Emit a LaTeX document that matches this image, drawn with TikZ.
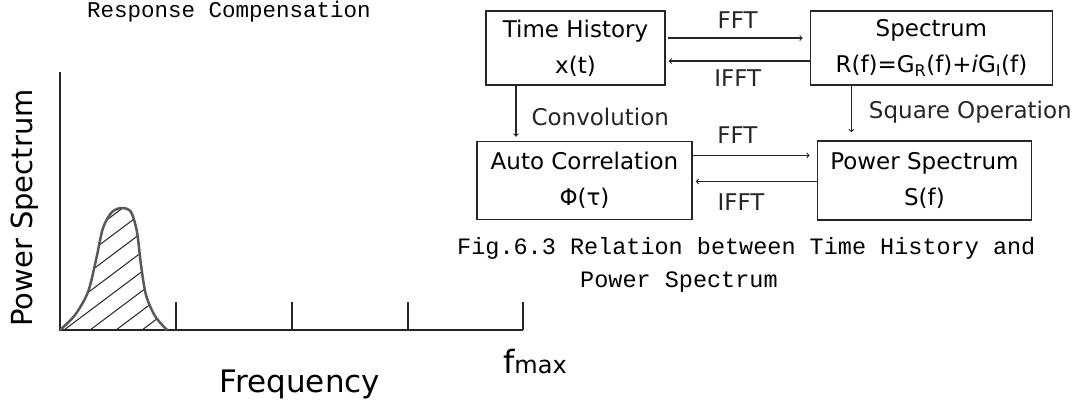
\documentclass[tikz,border=0pt]{standalone}
\usepackage{fontspec}
\usetikzlibrary{arrows, positioning}
\newfontfamily\plotfont{DejaVu Sans}
\newfontfamily\capfont{Liberation Mono}
\newcommand{\labelfont}{\plotfont\fontsize{23}{36}\selectfont}
\newcommand{\capsize}{\capfont\fontsize{23.5}{33}\selectfont}

\begin{document}
\begin{tikzpicture}[x=1pt, y=-1pt,
    box/.style={rectangle, draw=black!85, line width=1.4pt, inner sep=0pt,
                align=center, font=\labelfont},
    arrow/.style={->, >=to, line width=1.1pt, black!85},
    lbl/.style={font=\labelfont, inner sep=0pt}]
    \useasboundingbox (0,0) rectangle (1075,400);

    % spectrum sketch on the left
    \draw[line width=1.6pt, black!85] (60,72) -- (60,330) -- (523,330);
    \foreach \t in {176,292,408,523}
        \draw[line width=1.6pt, black!85] (\t,330) -- (\t,302);
    \begin{scope}
        \clip plot[smooth] coordinates {(60,330) (75,315) (88,292) (96,260) (103,228)
            (112,212) (122,208) (131,212) (137,232) (141,265) (146,295) (155,316) (167,330)};
        \foreach \h in {-66,-40,...,166}
            \draw[line width=1pt, black!85] (\h,330) -- ++(200,-150);
    \end{scope}
    \draw[line width=2.5pt, black!65] plot[smooth] coordinates {(60,330) (75,315) (88,292)
        (96,260) (103,228) (112,212) (122,208) (131,212) (137,232) (141,265) (146,295)
        (155,316) (167,330)};

    \node[font=\plotfont\fontsize{29}{34}\selectfont, rotate=90] (ylab) at (25,208) {Power Spectrum};
    \node[font=\plotfont\fontsize{31}{34}\selectfont, anchor=base, inner sep=0pt] (xlab) at (300,392) {Frequency};
    \node[anchor=base west, inner sep=0pt] (fmax) at (503,373)
        {\plotfont\fontsize{32}{34}\selectfont f\fontsize{24}{34}\selectfont max};
    \node[anchor=base west, inner sep=0pt, font=\capfont\fontsize{22.5}{30}\selectfont] (resp)
        at (87,17) {Response Compensation};

    % transform relations
    \node[box, minimum width=179pt, minimum height=74pt] (hist) at (575.5,48) {Time History\\x(t)};
    \node[box, minimum width=242pt, minimum height=74pt, right=144pt of hist] (spec)
        {Spectrum\\R(f)=G\textsubscript{R}(f)+\textit{i}G\textsubscript{I}(f)};
    \node[box, minimum width=215pt, minimum height=78pt, below=55pt of hist, xshift=9pt] (acorr)
        {Auto Correlation\\Φ(τ)};
    \node[box, minimum width=214pt, minimum height=79pt, right=124pt of acorr] (pspec)
        {Power Spectrum\\S(f)};

    \draw[arrow, shorten <=2pt, shorten >=7pt] ([yshift=10pt]hist.east)
        -- node[lbl, above=9pt] (fftA) {FFT} ([yshift=10pt]spec.west);
    \draw[arrow, shorten >=3pt] ([yshift=-13pt]spec.west)
        -- node[lbl, below=8pt] (ifftA) {IFFT} ([yshift=-13pt]hist.east);
    \draw[arrow, shorten >=7pt] ([yshift=25pt]acorr.east)
        -- node[lbl, above=11pt, pos=0.36] (fftB) {FFT} ([yshift=25pt]pspec.west);
    \draw[arrow, shorten >=3pt] ([yshift=-1pt]pspec.west)
        -- node[lbl, below=12pt, pos=0.61] (ifftB) {IFFT} ([yshift=-1pt]acorr.east);

    \coordinate (convtop) at ([xshift=-59.5pt]hist.south);
    \coordinate (sqtop) at ([xshift=-80pt]spec.south);
    \draw[arrow, shorten >=4pt] (convtop)
        -- node[lbl, right=15pt, pos=0.56, anchor=west] (conv) {Convolution} (convtop |- acorr.north);
    \draw[arrow, shorten >=8pt] (sqtop)
        -- node[lbl, right=17pt, pos=0.48, anchor=west] (sq) {Square Operation} (sqtop |- pspec.north);

    % caption
    \node[anchor=base west, inner sep=0pt, font=\capsize] (cap1) at (457,254)
        {Fig.6.3 Relation between Time History and};
    \node[anchor=base west, inner sep=0pt, font=\capsize] (cap2) at (580,287) {Power Spectrum};
\end{tikzpicture}
\end{document}
